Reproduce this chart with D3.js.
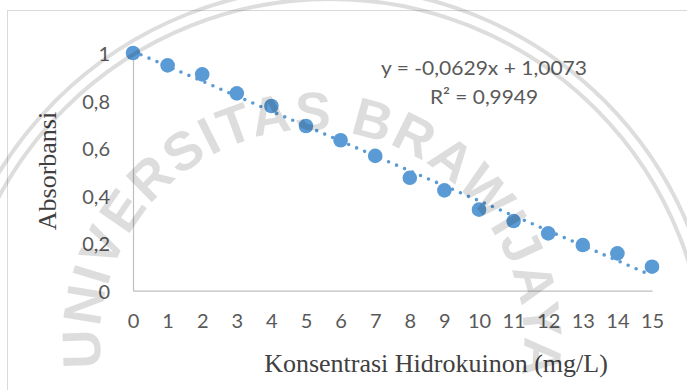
<!DOCTYPE html>
<html>
<head>
<meta charset="utf-8">
<script src="https://cdn.jsdelivr.net/npm/d3@7"></script>
<style>
  html, body { margin: 0; padding: 0; background: #ffffff; }
  svg { display: block; }
</style>
</head>
<body>
<svg id="chart" width="687" height="390"></svg>
<script>
// Calibration data: hydroquinone concentration vs absorbance
const concentration = [0, 1, 2, 3, 4, 5, 6, 7, 8, 9, 10, 11, 12, 13, 14, 15];
const absorbance = [1.000, 0.948, 0.910, 0.830, 0.777, 0.693, 0.633, 0.567,
                    0.475, 0.422, 0.341, 0.293, 0.241, 0.192, 0.157, 0.101];

// Linear trendline reported on the chart
const trendSlope = -0.0629;
const trendIntercept = 1.0073;
const equationLines = ["y = -0,0629x + 1,0073", "R² = 0,9949"];

// Axis ticks and titles
const xTickValues = [0, 1, 2, 3, 4, 5, 6, 7, 8, 9, 10, 11, 12, 13, 14, 15];
const yTickValues = [0, 0.2, 0.4, 0.6, 0.8, 1];
const xTitle = "Konsentrasi Hidrokuinon (mg/L)";
const yTitle = "Absorbansi";

// Document watermark
const watermarkText = "UNIVERSITAS BRAWIJAYA";

const svg = d3.select("#chart");
const W = 687, H = 390;

svg.append("rect").attr("width", W).attr("height", H).attr("fill", "#ffffff");

// chart frame (extends past the visible page on the right and bottom)
svg.append("rect")
  .attr("x", 7.5).attr("y", 10.5)
  .attr("width", 720).attr("height", 420)
  .attr("fill", "none").attr("stroke", "#d9d9d9").attr("stroke-width", 1);

const x = d3.scaleLinear().domain([0, 15]).range([133, 652]);
const y = d3.scaleLinear().domain([0, 1]).range([290.7, 53]);

const commaFmt = d => String(d).replace(".", ",");
const tickFont = "Lato, 'Open Sans', sans-serif";

// x axis
const gx = svg.append("g")
  .attr("transform", `translate(0,${y(0)})`)
  .call(d3.axisBottom(x).tickValues(xTickValues).tickSize(0).tickSizeOuter(0)
        .tickPadding(23).tickFormat(commaFmt));
gx.select(".domain").attr("stroke", "#bfbfbf").attr("stroke-width", 1.2);
gx.selectAll("text")
  .attr("font-family", tickFont)
  .attr("font-size", 20).attr("fill", "#595959");

// y axis
const gy = svg.append("g")
  .attr("transform", `translate(${x(0)},0)`)
  .call(d3.axisLeft(y).tickValues(yTickValues).tickSize(0).tickSizeOuter(0)
        .tickPadding(23).tickFormat(commaFmt));
gy.select(".domain").attr("stroke", "#bfbfbf").attr("stroke-width", 1.2);
gy.selectAll("text")
  .attr("dy", "0.38em")
  .attr("font-family", tickFont)
  .attr("font-size", 20).attr("fill", "#595959");

// markers
svg.append("g").selectAll("circle")
  .data(concentration)
  .join("circle")
  .attr("cx", (d) => x(d))
  .attr("cy", (d, i) => y(absorbance[i]))
  .attr("r", 7.3)
  .attr("fill", "#5b9bd5");

// dotted linear trendline, drawn over the markers
const xMin = d3.min(concentration), xMax = d3.max(concentration);
const trend = [xMin, xMax].map(v => [v, trendIntercept + trendSlope * v]);
svg.append("path")
  .datum(trend)
  .attr("d", d3.line().x(d => x(d[0])).y(d => y(d[1])))
  .attr("fill", "none")
  .attr("stroke", "#5b9bd5")
  .attr("stroke-width", 3.6)
  .attr("stroke-linecap", "round")
  .attr("stroke-dasharray", "0 8.7");

// trendline equation
svg.append("g").selectAll("text")
  .data(equationLines)
  .join("text")
  .attr("x", 484)
  .attr("y", (d, i) => 75 + i * 29)
  .attr("text-anchor", "middle")
  .attr("font-family", tickFont)
  .attr("font-size", 20)
  .attr("fill", "#595959")
  .attr("textLength", (d, i) => i === 0 ? 206 : 108)
  .attr("lengthAdjust", "spacingAndGlyphs")
  .text(d => d);

// axis titles
svg.append("text")
  .attr("x", 436).attr("y", 371.7)
  .attr("text-anchor", "middle")
  .attr("font-family", "'Liberation Serif', 'Times New Roman', serif")
  .attr("font-size", 26).attr("fill", "#404040")
  .text(xTitle);

svg.append("text")
  .attr("transform", "translate(56,171) rotate(-90)")
  .attr("text-anchor", "middle")
  .attr("font-family", "'Liberation Serif', 'Times New Roman', serif")
  .attr("font-size", 26).attr("fill", "#404040")
  .text(yTitle);

// watermark: curved lettering and rings, translucent over the chart
const wm = svg.append("g").attr("opacity", 0.13).attr("pointer-events", "none");
const ringCx = 330, ringCy = 375;
[388, 376].forEach(r => {
  wm.append("circle").attr("cx", ringCx).attr("cy", ringCy).attr("r", r)
    .attr("fill", "none").attr("stroke", "#000").attr("stroke-width", 4);
});
const tcx = 312, tcy = 342, tr = 212;
const a0 = 188 * Math.PI / 180, a1 = -10 * Math.PI / 180;
const p0 = [tcx + tr * Math.cos(a0), tcy - tr * Math.sin(a0)];
const p1 = [tcx + tr * Math.cos(a1), tcy - tr * Math.sin(a1)];
svg.append("defs").append("path")
  .attr("id", "wmArc")
  .attr("d", `M${p0[0]},${p0[1]} A${tr},${tr} 0 1 1 ${p1[0]},${p1[1]}`);
wm.append("text")
  .attr("font-family", "'Liberation Sans', Arial, sans-serif")
  .attr("font-weight", "bold")
  .attr("font-size", 54)
  .attr("fill", "#000")
  .append("textPath")
  .attr("href", "#wmArc")
  .attr("startOffset", "50%")
  .attr("text-anchor", "middle")
  .attr("textLength", 725)
  .attr("lengthAdjust", "spacing")
  .text(watermarkText);
</script>
</body>
</html>
